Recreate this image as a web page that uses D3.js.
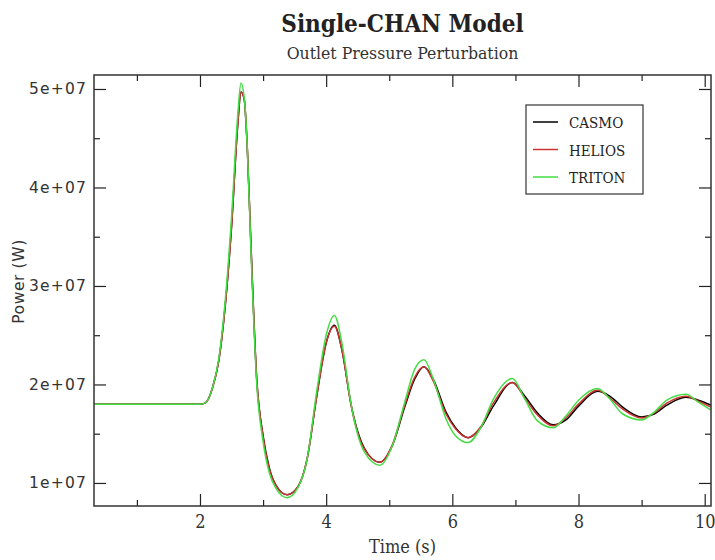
<!DOCTYPE html>
<html>
<head>
<meta charset="utf-8">
<script src="https://cdn.jsdelivr.net/npm/d3@7"></script>
<style>
  html, body { margin: 0; padding: 0; background: #fff; }
  svg { display: block; }
  .cserif { font-family: 'DejaVu Serif Condensed', 'DejaVu Serif', serif; font-stretch: condensed; }
</style>
</head>
<body>
<svg id="chart" width="715" height="560"></svg>
<script>
// ---- data (power in W) ----
const time = [0.32, 1.0, 2.0, 2.08, 2.2, 2.3, 2.4, 2.5, 2.6, 2.65, 2.7, 2.75, 2.8, 2.9, 3.0, 3.1, 3.2, 3.38, 3.55, 3.7, 3.85, 4.0, 4.13, 4.25, 4.4, 4.6, 4.85, 5.05, 5.25, 5.4, 5.55, 5.7, 5.9, 6.05, 6.25, 6.45, 6.65, 6.95, 7.15, 7.35, 7.6, 7.8, 8.0, 8.3, 8.5, 8.7, 9.0, 9.2, 9.4, 9.7, 9.9, 10.1];
const casmo = [1.8, 1.8, 1.8, 1.81, 1.97, 2.25, 2.8, 3.6, 4.65, 4.97, 4.9, 4.4, 3.55, 2.05, 1.48, 1.15, 0.98, 0.88, 0.96, 1.25, 1.88, 2.42, 2.60, 2.35, 1.78, 1.36, 1.21, 1.38, 1.78, 2.05, 2.18, 2.05, 1.72, 1.56, 1.46, 1.56, 1.78, 2.02, 1.88, 1.71, 1.59, 1.64, 1.78, 1.93, 1.88, 1.77, 1.67, 1.70, 1.79, 1.87, 1.84, 1.79].map(v => v * 1e7);
const helios = [1.8, 1.8, 1.8, 1.81, 1.97, 2.25, 2.8, 3.6, 4.65, 4.97, 4.9, 4.4, 3.55, 2.05, 1.47, 1.14, 0.98, 0.88, 0.96, 1.25, 1.88, 2.42, 2.59, 2.35, 1.77, 1.35, 1.21, 1.39, 1.80, 2.07, 2.18, 2.03, 1.70, 1.55, 1.46, 1.57, 1.81, 2.02, 1.86, 1.69, 1.58, 1.66, 1.80, 1.94, 1.86, 1.75, 1.66, 1.71, 1.81, 1.88, 1.83, 1.77].map(v => v * 1e7);
const triton = [1.8, 1.8, 1.8, 1.81, 1.97, 2.27, 2.85, 3.7, 4.75, 5.06, 4.92, 4.4, 3.5, 2.0, 1.42, 1.1, 0.95, 0.85, 0.95, 1.25, 1.93, 2.5, 2.70, 2.42, 1.78, 1.32, 1.18, 1.38, 1.83, 2.15, 2.25, 2.05, 1.65, 1.48, 1.41, 1.56, 1.85, 2.06, 1.85, 1.63, 1.56, 1.68, 1.84, 1.96, 1.85, 1.70, 1.64, 1.72, 1.84, 1.90, 1.82, 1.74].map(v => v * 1e7);

const seriesNames = ["CASMO", "HELIOS", "TRITON"];
const seriesColors = ["#000000", "#cc3333", "#44dd44"];
const seriesValues = [casmo, helios, triton];

const xMajorTicks = [2, 4, 6, 8, 10];
const xMinorTicks = [1, 3, 5, 7, 9];
const yMajorTicks = [1e7, 2e7, 3e7, 4e7, 5e7];
const yMinorTicks = [1.5e7, 2.5e7, 3.5e7, 4.5e7];
const yTickLabels = ["1e+07", "2e+07", "3e+07", "4e+07", "5e+07"];

(function () {
// ---- layout ----
const svg = d3.select("#chart");
const L = 94, R = 711, T = 75, B = 506;
const x = d3.scaleLinear().domain([0.32, 10.1]).range([L, R]);
const y = d3.scaleLinear().domain([0.766e7, 5.142e7]).range([B, T]);

const sans = "'DejaVu Sans', 'Liberation Sans', sans-serif";

// titles
svg.append("text").attr("class", "cserif").attr("x", (L + R) / 2).attr("y", 32)
  .attr("text-anchor", "middle").attr("font-weight", "bold")
  .attr("font-size", 24).attr("fill", "#222").text("Single-CHAN Model");
svg.append("text").attr("class", "cserif").attr("x", (L + R) / 2).attr("y", 59)
  .attr("text-anchor", "middle")
  .attr("font-size", 17.5).attr("fill", "#333").text("Outlet Pressure Perturbation");

// clip
svg.append("defs").append("clipPath").attr("id", "clip")
  .append("rect").attr("x", L).attr("y", T).attr("width", R - L).attr("height", B - T);

// lines
const line = d3.line().x((d, i) => x(time[i])).y(d => y(d)).curve(d3.curveMonotoneX);
const g = svg.append("g").attr("clip-path", "url(#clip)");
seriesValues.forEach((vals, k) => {
  g.append("path").datum(vals).attr("d", line)
    .attr("fill", "none").attr("stroke", seriesColors[k]).attr("stroke-width", 1.5);
});

// axes (ticks inward on all sides)
const tickStroke = "#222";
function styleTicks(sel) {
  sel.select(".domain").remove();
  sel.selectAll("line").attr("stroke", tickStroke).attr("stroke-width", 1.2);
}
const axBottom = d3.axisBottom(x).tickValues(xMajorTicks).tickSizeInner(-12).tickSizeOuter(0)
  .tickPadding(9).tickFormat(d3.format("d"));
const gb = svg.append("g").attr("transform", `translate(0,${B})`).call(axBottom);
styleTicks(gb);
gb.selectAll("text").attr("class", "cserif").attr("font-size", 18).attr("fill", "#333");
styleTicks(svg.append("g").attr("transform", `translate(0,${B})`)
  .call(d3.axisBottom(x).tickValues(xMinorTicks).tickSizeInner(-6).tickSizeOuter(0).tickFormat("")));

styleTicks(svg.append("g").attr("transform", `translate(0,${T})`)
  .call(d3.axisTop(x).tickValues(xMajorTicks).tickSizeInner(-12).tickSizeOuter(0).tickFormat("")));
styleTicks(svg.append("g").attr("transform", `translate(0,${T})`)
  .call(d3.axisTop(x).tickValues(xMinorTicks).tickSizeInner(-6).tickSizeOuter(0).tickFormat("")));

const axLeft = d3.axisLeft(y).tickValues(yMajorTicks).tickSizeInner(-12).tickSizeOuter(0)
  .tickPadding(7).tickFormat((d, i) => yTickLabels[i]);
const gl = svg.append("g").attr("transform", `translate(${L},0)`).call(axLeft);
styleTicks(gl);
gl.selectAll("text").attr("font-family", sans).attr("font-size", 15.5)
  .attr("letter-spacing", 1.2).attr("fill", "#333");
styleTicks(svg.append("g").attr("transform", `translate(${L},0)`)
  .call(d3.axisLeft(y).tickValues(yMinorTicks).tickSizeInner(-6).tickSizeOuter(0).tickFormat("")));

styleTicks(svg.append("g").attr("transform", `translate(${R},0)`)
  .call(d3.axisRight(y).tickValues(yMajorTicks).tickSizeInner(-12).tickSizeOuter(0).tickFormat("")));
styleTicks(svg.append("g").attr("transform", `translate(${R},0)`)
  .call(d3.axisRight(y).tickValues(yMinorTicks).tickSizeInner(-6).tickSizeOuter(0).tickFormat("")));

// frame
svg.append("rect").attr("x", L).attr("y", T).attr("width", R - L).attr("height", B - T)
  .attr("fill", "none").attr("stroke", "#333").attr("stroke-width", 1.5);

// axis titles
svg.append("text").attr("class", "cserif").attr("x", (L + R) / 2).attr("y", 553)
  .attr("text-anchor", "middle").attr("font-size", 18)
  .attr("fill", "#333").text("Time (s)");
svg.append("text").attr("transform", `translate(24,${(T + B) / 2 - 9}) rotate(-90)`)
  .attr("text-anchor", "middle").attr("font-family", sans).attr("font-size", 15.5)
  .attr("letter-spacing", 0.6).attr("fill", "#333").text("Power (W)");

// legend
const lg = svg.append("g").attr("transform", "translate(526,105)");
lg.append("rect").attr("x", 0).attr("y", 0).attr("width", 117).attr("height", 89)
  .attr("fill", "#fff").attr("stroke", "#333").attr("stroke-width", 1.2);
seriesNames.forEach((name, k) => {
  const yy = 17 + k * 27.5;
  lg.append("line").attr("x1", 7).attr("x2", 32).attr("y1", yy).attr("y2", yy)
    .attr("stroke", seriesColors[k]).attr("stroke-width", 1.5);
  lg.append("text").attr("class", "cserif").attr("x", 43).attr("y", yy + 6)
    .attr("font-size", 15).attr("fill", "#222").text(name);
});
})();
</script>
</body>
</html>
